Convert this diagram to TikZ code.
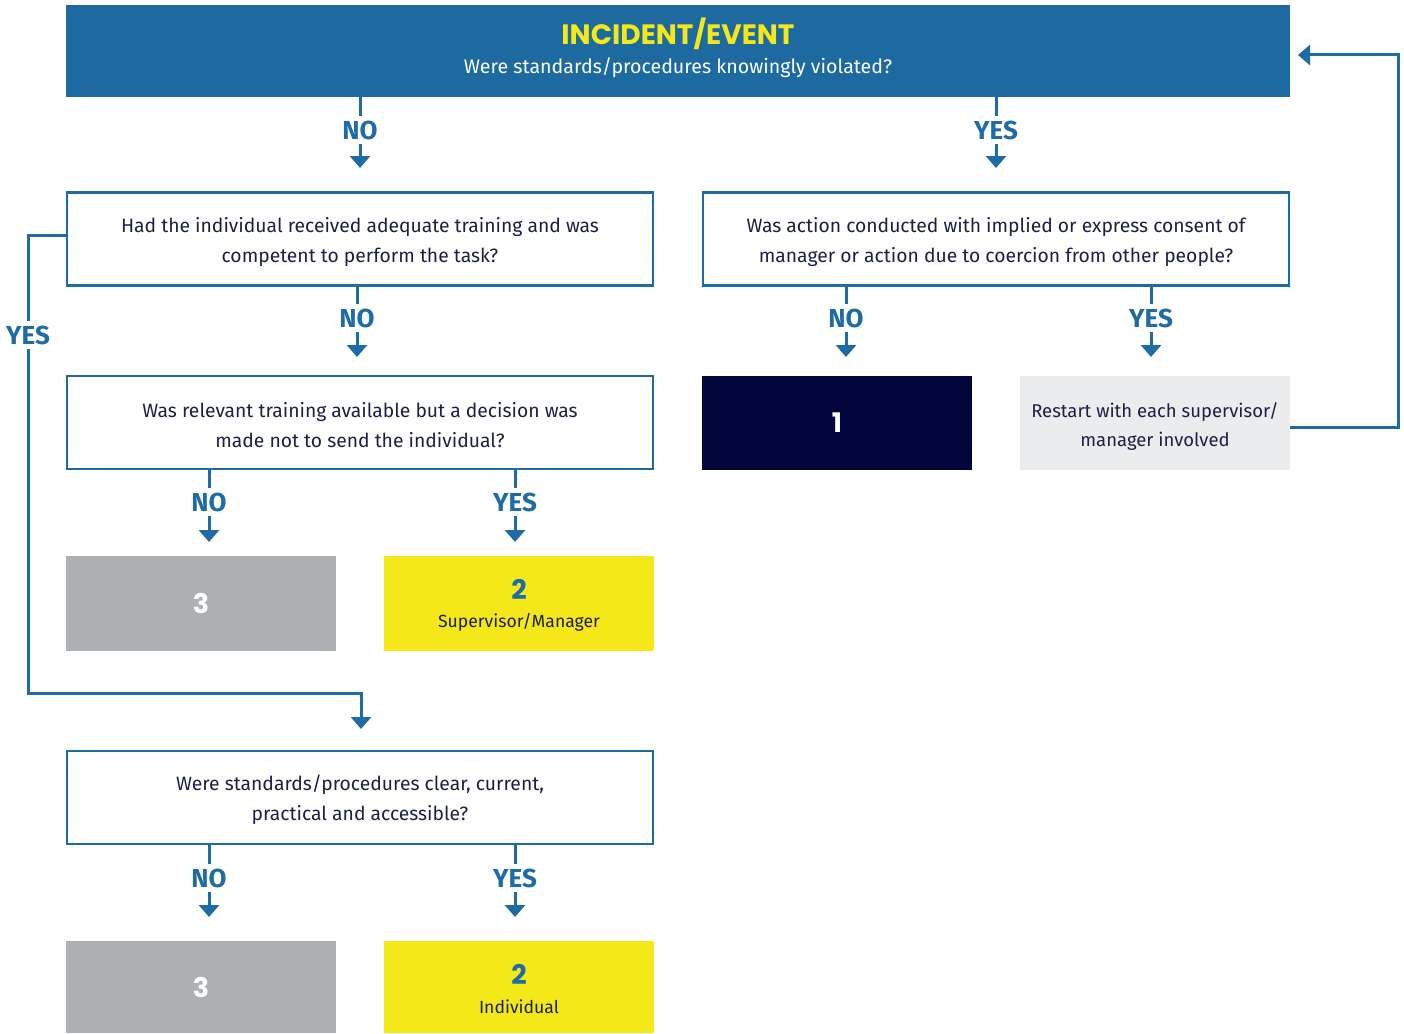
\documentclass[tikz,border=0pt]{standalone}
\usepackage{fontspec}
\setmainfont{Fira Sans}
\newfontfamily\headfont{Poppins}
\usetikzlibrary{arrows.meta}
\definecolor{hblue}{HTML}{1D6AA1}
\definecolor{lblue}{HTML}{1F6BA5}
\definecolor{hyellow}{HTML}{F4E819}
\definecolor{mgray}{HTML}{ADB0B2}
\definecolor{lgray}{HTML}{EBECEE}
\definecolor{navy}{HTML}{03063A}
\definecolor{txt}{HTML}{1C2045}
\tikzset{
  qbox/.style={draw=lblue, line width=2.5pt, fill=white, minimum width=586pt, minimum height=93pt, inner sep=0pt},
  qtext/.style={align=center, text=txt, font=\fontsize{19.3}{30}\selectfont, inner sep=0pt},
  obox/.style={minimum width=270pt, minimum height=94pt, align=center, inner sep=0pt},
  lbl/.style={text=lblue, font=\fontsize{26}{26}\selectfont\bfseries, inner xsep=0pt, inner ysep=5pt, text height=18pt, text depth=0pt},
  lnk/.style={draw=lblue, line width=3pt},
  arr/.style={lnk, -{Triangle[width=20pt,length=12pt]}},
  num/.style={font=\headfont\fontsize{27}{27}\selectfont\bfseries},
}
\begin{document}
\begin{tikzpicture}[x=1pt,y=-1pt]
\useasboundingbox (0,0) rectangle (1404,1033);
% top box
\node[fill=hblue, minimum width=1224pt, minimum height=92pt, inner sep=0pt] (top) at (678,51) {};
\node[text=hyellow, font=\headfont\fontsize{28}{28}\selectfont\bfseries] (title) at (678,34) {INCIDENT/EVENT};
\node[text=white, font=\fontsize{19.6}{20}\selectfont] (sub) at (678,68) {Were standards/procedures knowingly violated?};
% question boxes
\node[qbox] (A) at (360,239) {};
\node[qtext] (At) at (360,242) {Had the individual received adequate training and was\\competent to perform the task?};
\node[qbox] (B) at (996,239) {};
\node[qtext] (Bt) at (996,242) {Was action conducted with implied or express consent of\\manager or action due to coercion from other people?};
\node[qbox] (C) at (360,422.5) {};
\node[qtext] (Ct) at (360,425) {Was relevant training available but a decision was\\made not to send the individual?};
\node[qbox] (D) at (360,797.5) {};
\node[qtext] (Dt) at (360,800) {Were standards/procedures clear, current,\\practical and accessible?};
% outcome boxes
\node[obox, fill=mgray, minimum height=95pt] (T1) at (201,603.5) {};
\node[num, text=white] at (T1) {3};
\node[obox, fill=hyellow, minimum height=95pt] (S1) at (519,603.5) {};
\node[num, text=lblue] (S1n) at (519,589) {2};
\node[text=txt, font=\fontsize{17.6}{17}\selectfont] (S1t) at (519,622) {Supervisor/Manager};
\node[obox, fill=navy] (one) at (837,423) {};
\node[num, text=white] at (one) {1};
\node[obox, fill=lgray, minimum height=94pt] (R) at (1155,423) {};
\node[text=txt, font=\fontsize{18.5}{29}\selectfont, align=center] (Rt) at (1155,426) {Restart with each supervisor/\\manager involved};
\node[obox, fill=mgray, minimum height=92pt] (T2) at (201,987) {};
\node[num, text=white] at (T2) {3};
\node[obox, fill=hyellow, minimum height=92pt] (S2) at (519,987) {};
\node[num, text=lblue] (S2n) at (519,974) {2};
\node[text=txt, font=\fontsize{17.6}{17}\selectfont] (S2t) at (519,1007) {Individual};
% labels
\node[lbl] (l1) at (360,130) {NO};
\node[lbl] (l2) at (996,130) {YES};
\node[lbl] (l3) at (357,318) {NO};
\node[lbl] (l4) at (846,318) {NO};
\node[lbl] (l5) at (1151,318) {YES};
\node[lbl] (l6) at (209,502) {NO};
\node[lbl] (l7) at (515,502) {YES};
\node[lbl] (l8) at (28,335) {YES};
\node[lbl] (l9) at (209,878) {NO};
\node[lbl] (l10) at (515,878) {YES};
% tip coordinates
\coordinate (t1) at (360,168);
\coordinate (t2) at (996,168);
\coordinate (t3) at (357,357);
\coordinate (t4) at (846,357);
\coordinate (t5) at (1151,357);
\coordinate (t6) at (209,542);
\coordinate (t7) at (515,542);
\coordinate (t8) at (361,729);
\coordinate (t9) at (209,917);
\coordinate (t10) at (515,917);
\coordinate (tr) at (1298,55);
% connectors
\draw[lnk] (top.south -| l1) -- (l1.north);
\draw[arr] (l1.south) -- (t1);
\draw[lnk] (top.south -| l2) -- (l2.north);
\draw[arr] (l2.south) -- (t2);
\draw[lnk] (A.south -| l3) -- (l3.north);
\draw[arr] (l3.south) -- (t3);
\draw[lnk] (B.south -| l4) -- (l4.north);
\draw[arr] (l4.south) -- (t4);
\draw[lnk] (B.south -| l5) -- (l5.north);
\draw[arr] (l5.south) -- (t5);
\draw[lnk] (C.south -| l6) -- (l6.north);
\draw[arr] (l6.south) -- (t6);
\draw[lnk] (C.south -| l7) -- (l7.north);
\draw[arr] (l7.south) -- (t7);
\draw[lnk] (D.south -| l9) -- (l9.north);
\draw[arr] (l9.south) -- (t9);
\draw[lnk] (D.south -| l10) -- (l10.north);
\draw[arr] (l10.south) -- (t10);
% yes loop
\draw[lnk] ([yshift=4pt]A.west) -- ([yshift=4pt]A.west -| l8) -- (l8.north);
\draw[arr] (l8.south) -- (l8 |- 0,693) -- (t8 |- 0,693) -- (t8);
% restart loop
\draw[arr] ([yshift=-4pt]R.east) -- ++(108,0) |- (tr);
\end{tikzpicture}
\end{document}
